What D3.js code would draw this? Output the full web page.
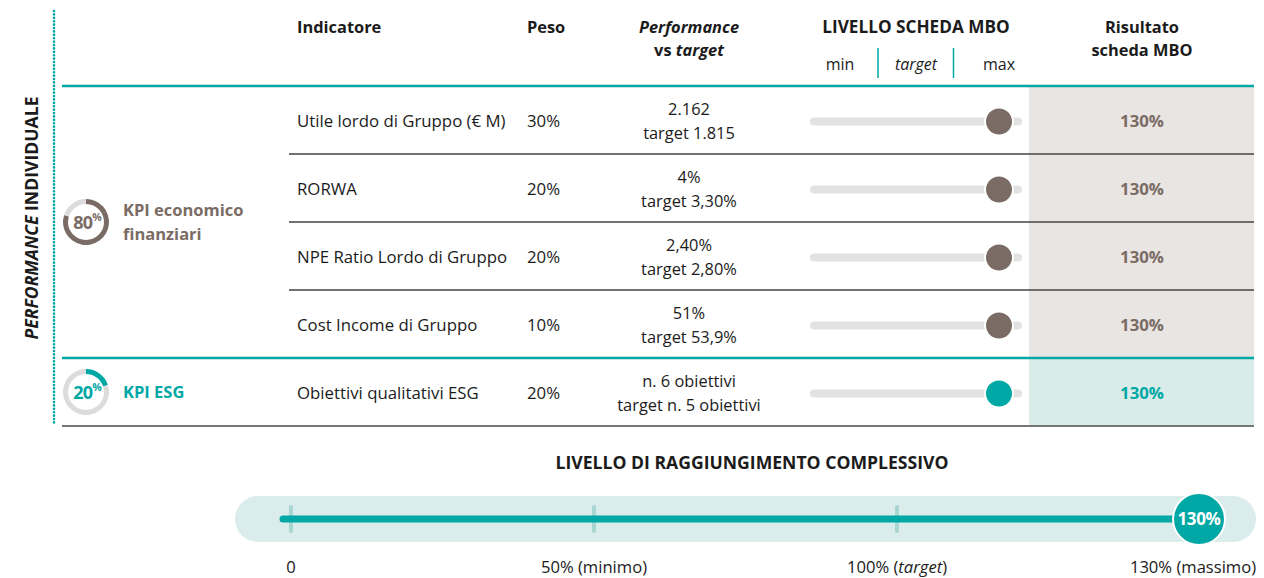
<!DOCTYPE html>
<html>
<head>
<meta charset="utf-8">
<script src="https://cdn.jsdelivr.net/npm/d3@7"></script>
<style>
  body { margin: 0; background: #fff; }
  svg { display: block; font-family: "Open Sans", sans-serif; }
</style>
</head>
<body>
<div id="chart"></div>
<script>
// data
const indicatori = ["Utile lordo di Gruppo (€ M)", "RORWA", "NPE Ratio Lordo di Gruppo", "Cost Income di Gruppo", "Obiettivi qualitativi ESG"]
const pesi = ["30%", "20%", "20%", "10%", "20%"]
const performance = ["2.162", "4%", "2,40%", "51%", "n. 6 obiettivi"]
const targets = ["target 1.815", "target 3,30%", "target 2,80%", "target 53,9%", "target n. 5 obiettivi"]
const livelloScheda = [130, 130, 130, 130, 130]
const risultato = ["130%", "130%", "130%", "130%", "130%"]
const rowGruppo = [0, 0, 0, 0, 1]

const gruppiNome = [["KPI economico", "finanziari"], ["KPI ESG"]]
const gruppiPeso = [80, 20]

const schedaTicks = [50, 100, 130]
const schedaLabels = ["min", "target", "max"]

const complessivoTicks = [0, 50, 100, 130]
const complessivoLabels = [["0", ""], ["50% (minimo)", ""], ["100% (", "target", ")"], ["130% (massimo)", ""]]
const complessivo = 130

const BROWN = "#7a6c64", TEAL = "#00a8a5", DARK = "#1b1b1b"
const gruppiColor = [BROWN, TEAL]
const gruppiFill = ["#e9e5e2", "#d9ecea"]

const W = 1264, H = 578
const FS = 16.8
const svg = d3.select("#chart").append("svg")
    .attr("width", W)
    .attr("height", H)

const y = d3.scaleBand().domain(d3.range(indicatori.length)).range([86, 426])
const xScheda = d3.scaleLinear().domain(schedaTicks).range([840, 916, 999])

const colInd = 297, colPeso = 527, colPerf = 689, colScheda = 916, colRis = 1142
const shadeX0 = 1029, right = 1254

// shaded result column
svg.selectAll("rect.shade")
    .data(d3.range(indicatori.length))
    .join("rect")
    .attr("x", shadeX0)
    .attr("y", d => y(d))
    .attr("width", right - shadeX0)
    .attr("height", y.bandwidth())
    .attr("fill", d => gruppiFill[rowGruppo[d]])

// header
const head = svg.append("g").attr("font-weight", 700).attr("font-size", 16.4).attr("fill", DARK)
head.append("text").attr("x", colInd).attr("y", 33).text("Indicatore")
head.append("text").attr("x", colPeso).attr("y", 33).text("Peso")
head.append("text").attr("x", colPerf).attr("y", 33).attr("text-anchor", "middle")
    .attr("font-style", "italic").text("Performance")
const vs = head.append("text").attr("x", colPerf).attr("y", 56).attr("text-anchor", "middle")
vs.append("tspan").text("vs ")
vs.append("tspan").attr("font-style", "italic").text("target")
head.append("text").attr("x", colScheda).attr("y", 33).attr("text-anchor", "middle")
    .attr("font-size", 17.2).text("LIVELLO SCHEDA MBO")
head.append("text").attr("x", colRis).attr("y", 33).attr("text-anchor", "middle").text("Risultato")
head.append("text").attr("x", colRis).attr("y", 56).attr("text-anchor", "middle").text("scheda MBO")

svg.selectAll("text.sch")
    .data(schedaTicks)
    .join("text")
    .attr("x", d => xScheda(d))
    .attr("y", 70)
    .attr("text-anchor", "middle")
    .attr("font-size", 16)
    .attr("fill", DARK)
    .attr("font-style", (d, i) => i == 1 ? "italic" : "normal")
    .text((d, i) => schedaLabels[i])

svg.selectAll("line.schsep")
    .data(d3.pairs(schedaTicks))
    .join("line")
    .attr("x1", d => (xScheda(d[0]) + xScheda(d[1])) / 2 - (d[0] == 100 ? 4 : 0))
    .attr("x2", d => (xScheda(d[0]) + xScheda(d[1])) / 2 - (d[0] == 100 ? 4 : 0))
    .attr("y1", 48)
    .attr("y2", 78)
    .attr("stroke", TEAL)
    .attr("stroke-width", 1.5)

// row separators
svg.selectAll("line.sep")
    .data(d3.range(1, indicatori.length).filter(i => rowGruppo[i] == rowGruppo[i - 1]))
    .join("line")
    .attr("x1", 289).attr("x2", right)
    .attr("y1", d => y(d)).attr("y2", d => y(d))
    .attr("stroke", "#444").attr("stroke-width", 1.3)

// group separators (teal)
const groupStarts = d3.range(indicatori.length).filter(i => i == 0 || rowGruppo[i] != rowGruppo[i - 1])
svg.selectAll("line.gsep")
    .data(groupStarts)
    .join("line")
    .attr("x1", 62).attr("x2", right)
    .attr("y1", d => y(d)).attr("y2", d => y(d))
    .attr("stroke", TEAL).attr("stroke-width", 2.5)

svg.append("line")
    .attr("x1", 62).attr("x2", right)
    .attr("y1", y.range()[1]).attr("y2", y.range()[1])
    .attr("stroke", "#777").attr("stroke-width", 2)

// dotted left border + vertical title
svg.append("line")
    .attr("x1", 54).attr("x2", 54)
    .attr("y1", 11).attr("y2", 425)
    .attr("stroke", TEAL).attr("stroke-width", 2.6)
    .attr("stroke-linecap", "round")
    .attr("stroke-dasharray", "0.1,3.3")

const vt = svg.append("text")
    .attr("transform", "translate(38,218) rotate(-90)")
    .attr("text-anchor", "middle")
    .attr("font-weight", 700)
    .attr("font-size", 17.6)
    .attr("fill", DARK)
vt.append("tspan").attr("font-style", "italic").text("PERFORMANCE")
vt.append("tspan").text(" INDIVIDUALE")

// table rows
const rows = svg.selectAll("g.row")
    .data(d3.range(indicatori.length))
    .join("g")
    .attr("transform", d => `translate(0,${y(d) + y.bandwidth() / 2 + 1.5})`)
    .attr("font-size", FS)
    .attr("fill", DARK)

rows.append("text").attr("x", colInd).attr("dy", "0.35em").text(d => indicatori[d])
rows.append("text").attr("x", colPeso).attr("dy", "0.35em").text(d => pesi[d])
rows.append("text").attr("x", colPerf).attr("y", -12).attr("dy", "0.35em")
    .attr("text-anchor", "middle").attr("font-size", 16.4).text(d => performance[d])
rows.append("text").attr("x", colPerf).attr("y", 12).attr("dy", "0.35em")
    .attr("text-anchor", "middle").attr("font-size", 16.4).text(d => targets[d])

rows.append("line")
    .attr("x1", 814).attr("x2", 1018)
    .attr("y1", 0).attr("y2", 0)
    .attr("stroke", "#e2e2e2").attr("stroke-width", 8)
    .attr("stroke-linecap", "round")
rows.append("circle")
    .attr("cx", d => xScheda(livelloScheda[d]))
    .attr("cy", 0)
    .attr("r", 14)
    .attr("fill", d => gruppiColor[rowGruppo[d]])
    .attr("stroke", "#fff").attr("stroke-width", 2)

rows.append("text").attr("x", colRis).attr("dy", "0.35em")
    .attr("text-anchor", "middle")
    .attr("font-weight", 700)
    .attr("font-size", 16.8)
    .attr("fill", d => gruppiColor[rowGruppo[d]])
    .text(d => risultato[d])

// group labels with donuts
const arc = d3.arc().innerRadius(18).outerRadius(23)
const pie = d3.pie().sort(null).startAngle(0).endAngle(2 * Math.PI)

const grp = svg.selectAll("g.grp")
    .data(gruppiPeso)
    .join("g")
    .attr("transform", (d, i) => {
        const rs = d3.range(indicatori.length).filter(r => rowGruppo[r] == i)
        const cy = (y(rs[0]) + y(rs[rs.length - 1]) + y.bandwidth()) / 2
        return `translate(86,${cy})`
    })

grp.selectAll("path")
    .data((d, i) => pie([d, 100 - d]).map(a => ({ ...a, g: i })))
    .join("path")
    .attr("d", arc)
    .attr("fill", (a, j) => j == 0 ? gruppiColor[a.g] : "#dcdcdc")

const pct = grp.append("text")
    .attr("x", 1).attr("y", 1).attr("dy", "0.35em")
    .attr("text-anchor", "middle")
    .attr("font-weight", 700)
    .attr("font-size", 18)
    .attr("letter-spacing", -0.8)
    .attr("fill", (d, i) => gruppiColor[i])
pct.append("tspan").text(d => d)
pct.append("tspan").attr("font-size", 10.5).attr("dy", "-0.75em").text("%")

grp.each(function (d, i) {
    const lines = gruppiNome[i]
    d3.select(this).selectAll("text.name")
        .data(lines)
        .join("text")
        .attr("x", 37)
        .attr("y", (l, k) => (k - (lines.length - 1) / 2) * 24)
        .attr("dy", "0.35em")
        .attr("font-weight", 700)
        .attr("font-size", 16.5)
        .attr("fill", gruppiColor[i])
        .text(l => l)
})

// livello di raggiungimento complessivo
svg.append("text")
    .attr("x", 752).attr("y", 469)
    .attr("text-anchor", "middle")
    .attr("font-weight", 700)
    .attr("font-size", 17.6)
    .attr("fill", DARK)
    .text("LIVELLO DI RAGGIUNGIMENTO COMPLESSIVO")

const xc = d3.scaleLinear().domain(complessivoTicks).range([291, 594, 897, 1199])
const barY = 519

svg.append("rect")
    .attr("x", 235).attr("y", barY - 23)
    .attr("width", 1256 - 235).attr("height", 46)
    .attr("rx", 23)
    .attr("fill", "#daeceb")

svg.selectAll("line.ctick")
    .data(complessivoTicks)
    .join("line")
    .attr("x1", d => xc(d)).attr("x2", d => xc(d))
    .attr("y1", barY - 12).attr("y2", barY + 12)
    .attr("stroke", "#a9d6d3").attr("stroke-width", 4)
    .attr("stroke-linecap", "round")

svg.append("line")
    .attr("x1", xc(0) - 8).attr("x2", xc(complessivo))
    .attr("y1", barY).attr("y2", barY)
    .attr("stroke", TEAL).attr("stroke-width", 7)
    .attr("stroke-linecap", "round")

svg.append("circle")
    .attr("cx", xc(complessivo)).attr("cy", barY)
    .attr("r", 26)
    .attr("fill", TEAL)
    .attr("stroke", "#fff").attr("stroke-width", 2)

svg.append("text")
    .attr("x", xc(complessivo)).attr("y", barY).attr("dy", "0.35em")
    .attr("text-anchor", "middle")
    .attr("font-weight", 700)
    .attr("font-size", 17)
    .attr("letter-spacing", -0.4)
    .attr("fill", "#fff")
    .text(complessivo + "%")

const cl = svg.selectAll("text.clab")
    .data(complessivoTicks)
    .join("text")
    .attr("x", d => xc(d))
    .attr("dx", (d, i) => i == complessivoTicks.length - 1 ? -6 : 0)
    .attr("y", 567).attr("dy", "0.35em")
    .attr("text-anchor", "middle")
    .attr("font-size", 16.6)
    .attr("fill", DARK)
cl.each(function (d, i) {
    const parts = complessivoLabels[i]
    d3.select(this).selectAll("tspan")
        .data(parts)
        .join("tspan")
        .attr("font-style", (p, k) => k == 1 ? "italic" : "normal")
        .text(p => p)
})
</script>
</body>
</html>
